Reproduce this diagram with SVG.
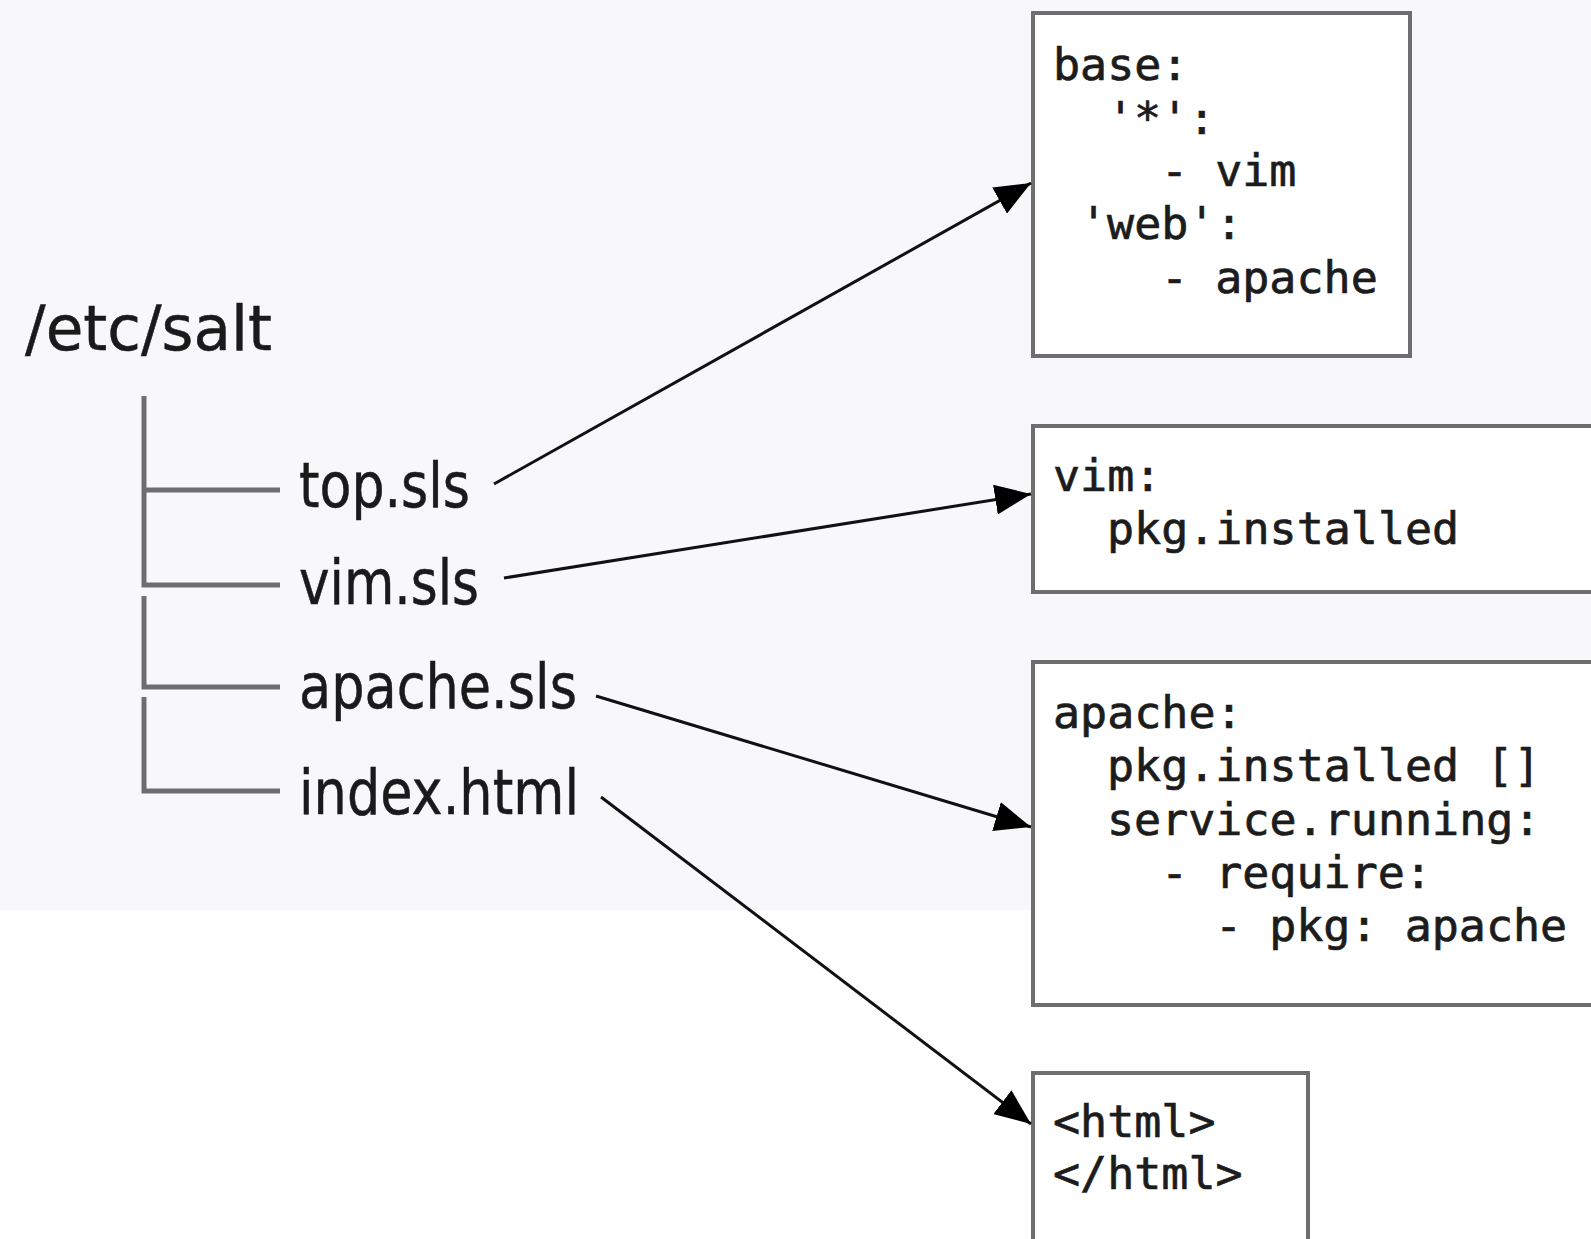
<svg xmlns="http://www.w3.org/2000/svg" width="1591" height="1239" viewBox="0 0 1591 1239">
  <style>
    .box { fill: #ffffff; stroke: #6e6e6e; stroke-width: 4; }
    .code { font-family: "DejaVu Sans Mono", "Liberation Mono", monospace; font-size: 45px; fill: #1c1c1c; stroke: #1c1c1c; stroke-width: 0.7; }
    .file { font-family: "DejaVu Sans", "Liberation Sans", sans-serif; font-size: 62px; fill: #1a1a1a; stroke: #1a1a1a; stroke-width: 0.5; }
    .tree { fill: none; stroke: #6e6e6e; stroke-width: 5; }
    .link { fill: none; stroke: #111111; stroke-width: 3; marker-end: url(#arrow); }
  </style>
  <defs>
    <marker id="arrow" viewBox="0 0 10 10" refX="10" refY="5" markerUnits="userSpaceOnUse" markerWidth="36" markerHeight="30" orient="auto" preserveAspectRatio="none">
      <path d="M0,0 L10,5 L0,10 z" fill="#000000"/>
    </marker>
  </defs>

  <!-- backdrop: light panel over the upper part -->
  <rect x="0" y="0" width="1591" height="1239" fill="#ffffff"/>
  <rect x="0" y="0" width="1591" height="910" fill="#f8f8fa"/>

  <!-- directory tree -->
  <g id="tree">
    <text class="file" x="25" y="350" textLength="247" lengthAdjust="spacingAndGlyphs">/etc/salt</text>
    <path class="tree" d="M144,396 V585 H280 M144,490 H280 M144,596 V687 H280 M144,697 V791 H280"/>
    <text class="file" x="299" y="507" textLength="171" lengthAdjust="spacingAndGlyphs">top.sls</text>
    <text class="file" x="299" y="604" textLength="180" lengthAdjust="spacingAndGlyphs">vim.sls</text>
    <text class="file" x="299" y="708" textLength="278" lengthAdjust="spacingAndGlyphs">apache.sls</text>
    <text class="file" x="299" y="814" textLength="280" lengthAdjust="spacingAndGlyphs">index.html</text>
  </g>

  <!-- top.sls contents -->
  <g id="top-sls">
    <rect class="box" x="1033" y="13" width="377" height="343"/>
    <text class="code" x="1053" y="80">base:</text>
    <text class="code" x="1107" y="134">'*':</text>
    <text class="code" x="1161" y="186">- vim</text>
    <text class="code" x="1080" y="239">'web':</text>
    <text class="code" x="1161" y="293">- apache</text>
  </g>

  <!-- vim.sls contents -->
  <g id="vim-sls">
    <rect class="box" x="1033" y="426" width="600" height="166"/>
    <text class="code" x="1053" y="491">vim:</text>
    <text class="code" x="1107" y="544">pkg.installed</text>
  </g>

  <!-- apache.sls contents -->
  <g id="apache-sls">
    <rect class="box" x="1033" y="662" width="600" height="343"/>
    <text class="code" x="1053" y="728">apache:</text>
    <text class="code" x="1107" y="781">pkg.installed []</text>
    <text class="code" x="1107" y="835">service.running:</text>
    <text class="code" x="1161" y="888">- require:</text>
    <text class="code" x="1215" y="941">- pkg: apache</text>
  </g>

  <!-- index.html contents -->
  <g id="index-html">
    <rect class="box" x="1033" y="1073" width="275" height="200"/>
    <text class="code" x="1053" y="1137">&lt;html&gt;</text>
    <text class="code" x="1053" y="1189">&lt;/html&gt;</text>
  </g>

  <!-- file-to-contents connectors -->
  <g id="connectors">
    <line class="link" x1="494" y1="484" x2="1031" y2="183"/>
    <line class="link" x1="504" y1="578" x2="1031" y2="494"/>
    <line class="link" x1="596" y1="696" x2="1031" y2="827"/>
    <line class="link" x1="601" y1="797" x2="1031" y2="1124"/>
  </g>
</svg>
